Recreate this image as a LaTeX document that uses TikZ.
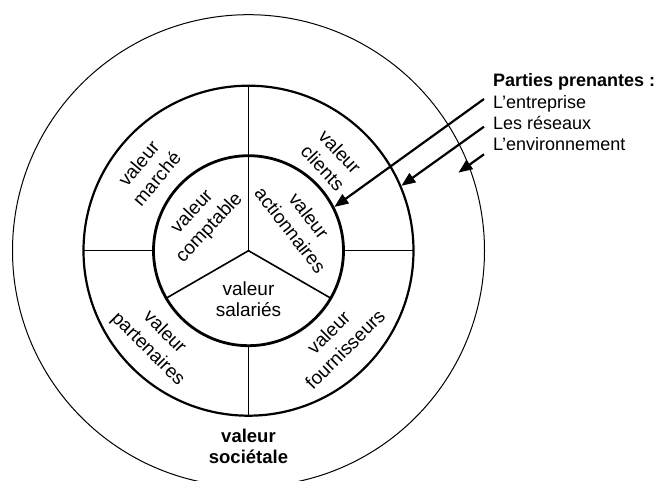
\documentclass[tikz,border=0pt]{standalone}
\usepackage{fontspec}
\setmainfont{Liberation Sans}
\usetikzlibrary{arrows.meta}
\begin{document}
\begin{tikzpicture}[x=1pt,y=1pt,
  ring/.style={draw, circle, inner sep=0pt},
  spoke/.style={line width=1.6pt},
  lbl/.style={align=center, inner sep=0pt, font=\fontsize{19}{23.5}\selectfont},
  side/.style={anchor=base west, inner sep=0pt, font=\fontsize{18}{21}\selectfont},
  pointer/.style={line width=2.2pt, -{Triangle[length=14pt,width=11pt]}}]
\useasboundingbox (-248.5,-230.3) rectangle (412.5,250.7);
% rings
\node[ring, line width=1pt, minimum size=472pt] (outer) at (0,0) {};
\node[ring, line width=2.2pt, minimum size=330pt] (middle) at (0,0) {};
\node[ring, line width=2.8pt, minimum size=190pt] (inner) at (0,0) {};
% spokes
\draw[spoke] (inner.center) -- (90:165);
\draw[spoke] (inner.center) -- (210:95);
\draw[spoke] (inner.center) -- (330:95);
\draw[spoke] (270:95) -- (270:165);
\draw[spoke] (180:95) -- (180:165);
\draw[spoke] (0:95) -- (0:165);
% ring labels
\node[lbl, rotate=50] (marche) at (-101,79.7) {valeur\\marché};
\node[lbl, rotate=-47] (clients) at (83,91) {valeur\\clients};
\node[lbl, rotate=-45] (partenaires) at (-92.5,-90.3) {valeur\\partenaires};
\node[lbl, rotate=45] (fournisseurs) at (88.2,-90.1) {valeur\\fournisseurs};
\node[lbl, rotate=47] (comptable) at (-47.5,30.7) {valeur\\comptable};
\node[lbl, rotate=-52] (actionnaires) at (51.3,27.9) {valeur\\actionnaires};
\node[lbl, font=\fontsize{19}{21}\selectfont] (salaries) at (0,-49) {valeur\\salariés};
\node[lbl, font=\fontsize{18.5}{21}\selectfont\bfseries] (societale) at (0,-196) {valeur\\sociétale};
% stakeholders
\node[side, font=\fontsize{18}{21}\selectfont\bfseries] (pp) at (244.5,163.7) {Parties prenantes :};
\node[side] (ent) at (244.5,142.4) {L’entreprise};
\node[side] (res) at (244.5,121.1) {Les réseaux};
\node[side] (env) at (244.5,99.8) {L’environnement};
\coordinate (s1) at (235.5,151.7);
\coordinate (s2) at (235.5,124);
\coordinate (s3) at (235.5,96.4);
\coordinate (t3) at (20.4:224);
\draw[pointer] (s1) -- (inner.27);
\draw[pointer] (s2) -- (middle.23.6);
\draw[pointer] (s3) -- (t3);
\end{tikzpicture}
\end{document}
